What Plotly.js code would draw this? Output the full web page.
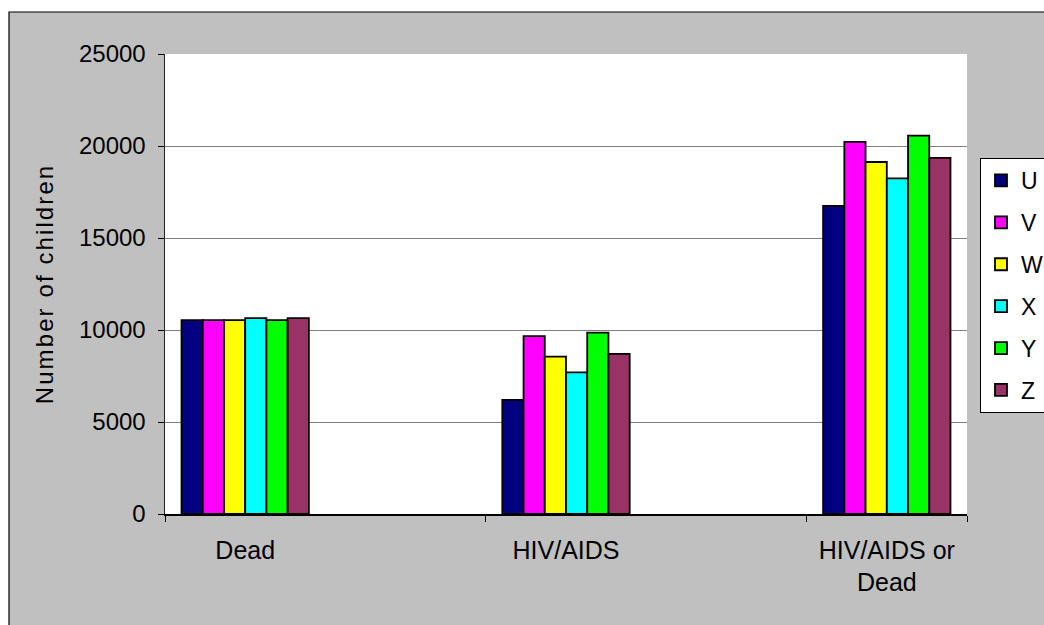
<!DOCTYPE html>
<html><head><meta charset="utf-8">
<script src="https://cdn.plot.ly/plotly-3.0.1.min.js"></script>
<style>html,body{margin:0;padding:0;background:#fff;}#chart{width:1044px;height:625px;}
.ytitle{letter-spacing:2.1px;}
</style>
</head><body><div id="chart"></div>
<script>
const categories = ["Dead", "HIV/AIDS", "HIV/AIDS or Dead"];
const tickLabels = ["Dead", "HIV/AIDS", "HIV/AIDS or<br>Dead"];
const axisSlots = ["Dead", " ", "HIV/AIDS", "  ", "HIV/AIDS or Dead"];
const seriesNames = ["U", "V", "W", "X", "Y", "Z"];
const U = [10540, 6200, 16740];
const V = [10540, 9670, 20220];
const W = [10540, 8550, 19130];
const X = [10650, 7700, 18240];
const Y = [10540, 9860, 20560];
const Z = [10650, 8700, 19350];
const seriesValues = [U, V, W, X, Y, Z];
const colors = ["#000080", "#FF00FF", "#FFFF00", "#00FFFF", "#00FF00", "#993366"];

const traces = seriesNames.map((n, i) => ({
  type: "bar", name: n, x: categories, y: seriesValues[i],
  legendgroup: n,
  marker: {color: colors[i], line: {color: "#000", width: 1.8}},
  hoverinfo: "x+y+name"
}));

const L = 165, R = 967, T = 54, B = 514, W0 = 1044, H0 = 625;
const px = v => (v - L) / (R - L);
const py = v => (B - v) / (B - T);

const layout = {
  width: W0, height: H0,
  margin: {l: L, r: W0 - R, t: T, b: H0 - B, pad: 0, autoexpand: false},
  paper_bgcolor: "#ffffff",
  plot_bgcolor: "rgba(0,0,0,0)",
  font: {family: "Liberation Sans, Arial, sans-serif", size: 24, color: "#000"},
  barmode: "group", bargap: 0.206, bargroupgap: 0,
  showlegend: true,
  legend: {
    xref: "container", yref: "container",
    x: 980 / W0, y: 1 - 158 / H0, xanchor: "left", yanchor: "top",
    bgcolor: "#ffffff", bordercolor: "#000", borderwidth: 1,
    font: {size: 23}, traceorder: "grouped", tracegroupgap: 9,
    itemwidth: 30, entrywidth: 100
  },
  xaxis: {
    type: "category", categoryorder: "array", categoryarray: axisSlots,
    tickmode: "array", tickvals: categories, ticktext: tickLabels,
    tickson: "boundaries", ticks: "outside", ticklen: 6, tickcolor: "#000",
    tickfont: {size: 25}, ticklabelstandoff: 13,
    showline: true, linecolor: "#000", linewidth: 1.8,
    showgrid: false, zeroline: false, automargin: false,
    range: [-0.5, 4.5], fixedrange: true
  },
  yaxis: {
    range: [0, 25000], dtick: 5000, tick0: 0, tickformat: "d",
    ticks: "outside", ticklen: 6, tickcolor: "#000",
    tickfont: {size: 24}, ticklabelstandoff: 7,
    showline: true, linecolor: "#222", linewidth: 1.5,
    showgrid: true, gridcolor: "#808080", gridwidth: 1,
    zeroline: false, automargin: false, fixedrange: true,
    title: {text: "Number of children", font: {size: 24}, standoff: 18}
  },
  shapes: [
    {type: "rect", xref: "paper", yref: "paper", layer: "below",
     x0: px(9), x1: px(1060), y0: py(640), y1: py(12),
     fillcolor: "#C0C0C0", line: {color: "#000", width: 1.2}},
    {type: "rect", xref: "paper", yref: "paper", layer: "below",
     x0: 0, x1: 1, y0: 0, y1: 1,
     fillcolor: "#ffffff", line: {width: 0}}
  ]
};

Plotly.newPlot("chart", traces, layout, {displayModeBar: false, staticPlot: true});
</script></body></html>
